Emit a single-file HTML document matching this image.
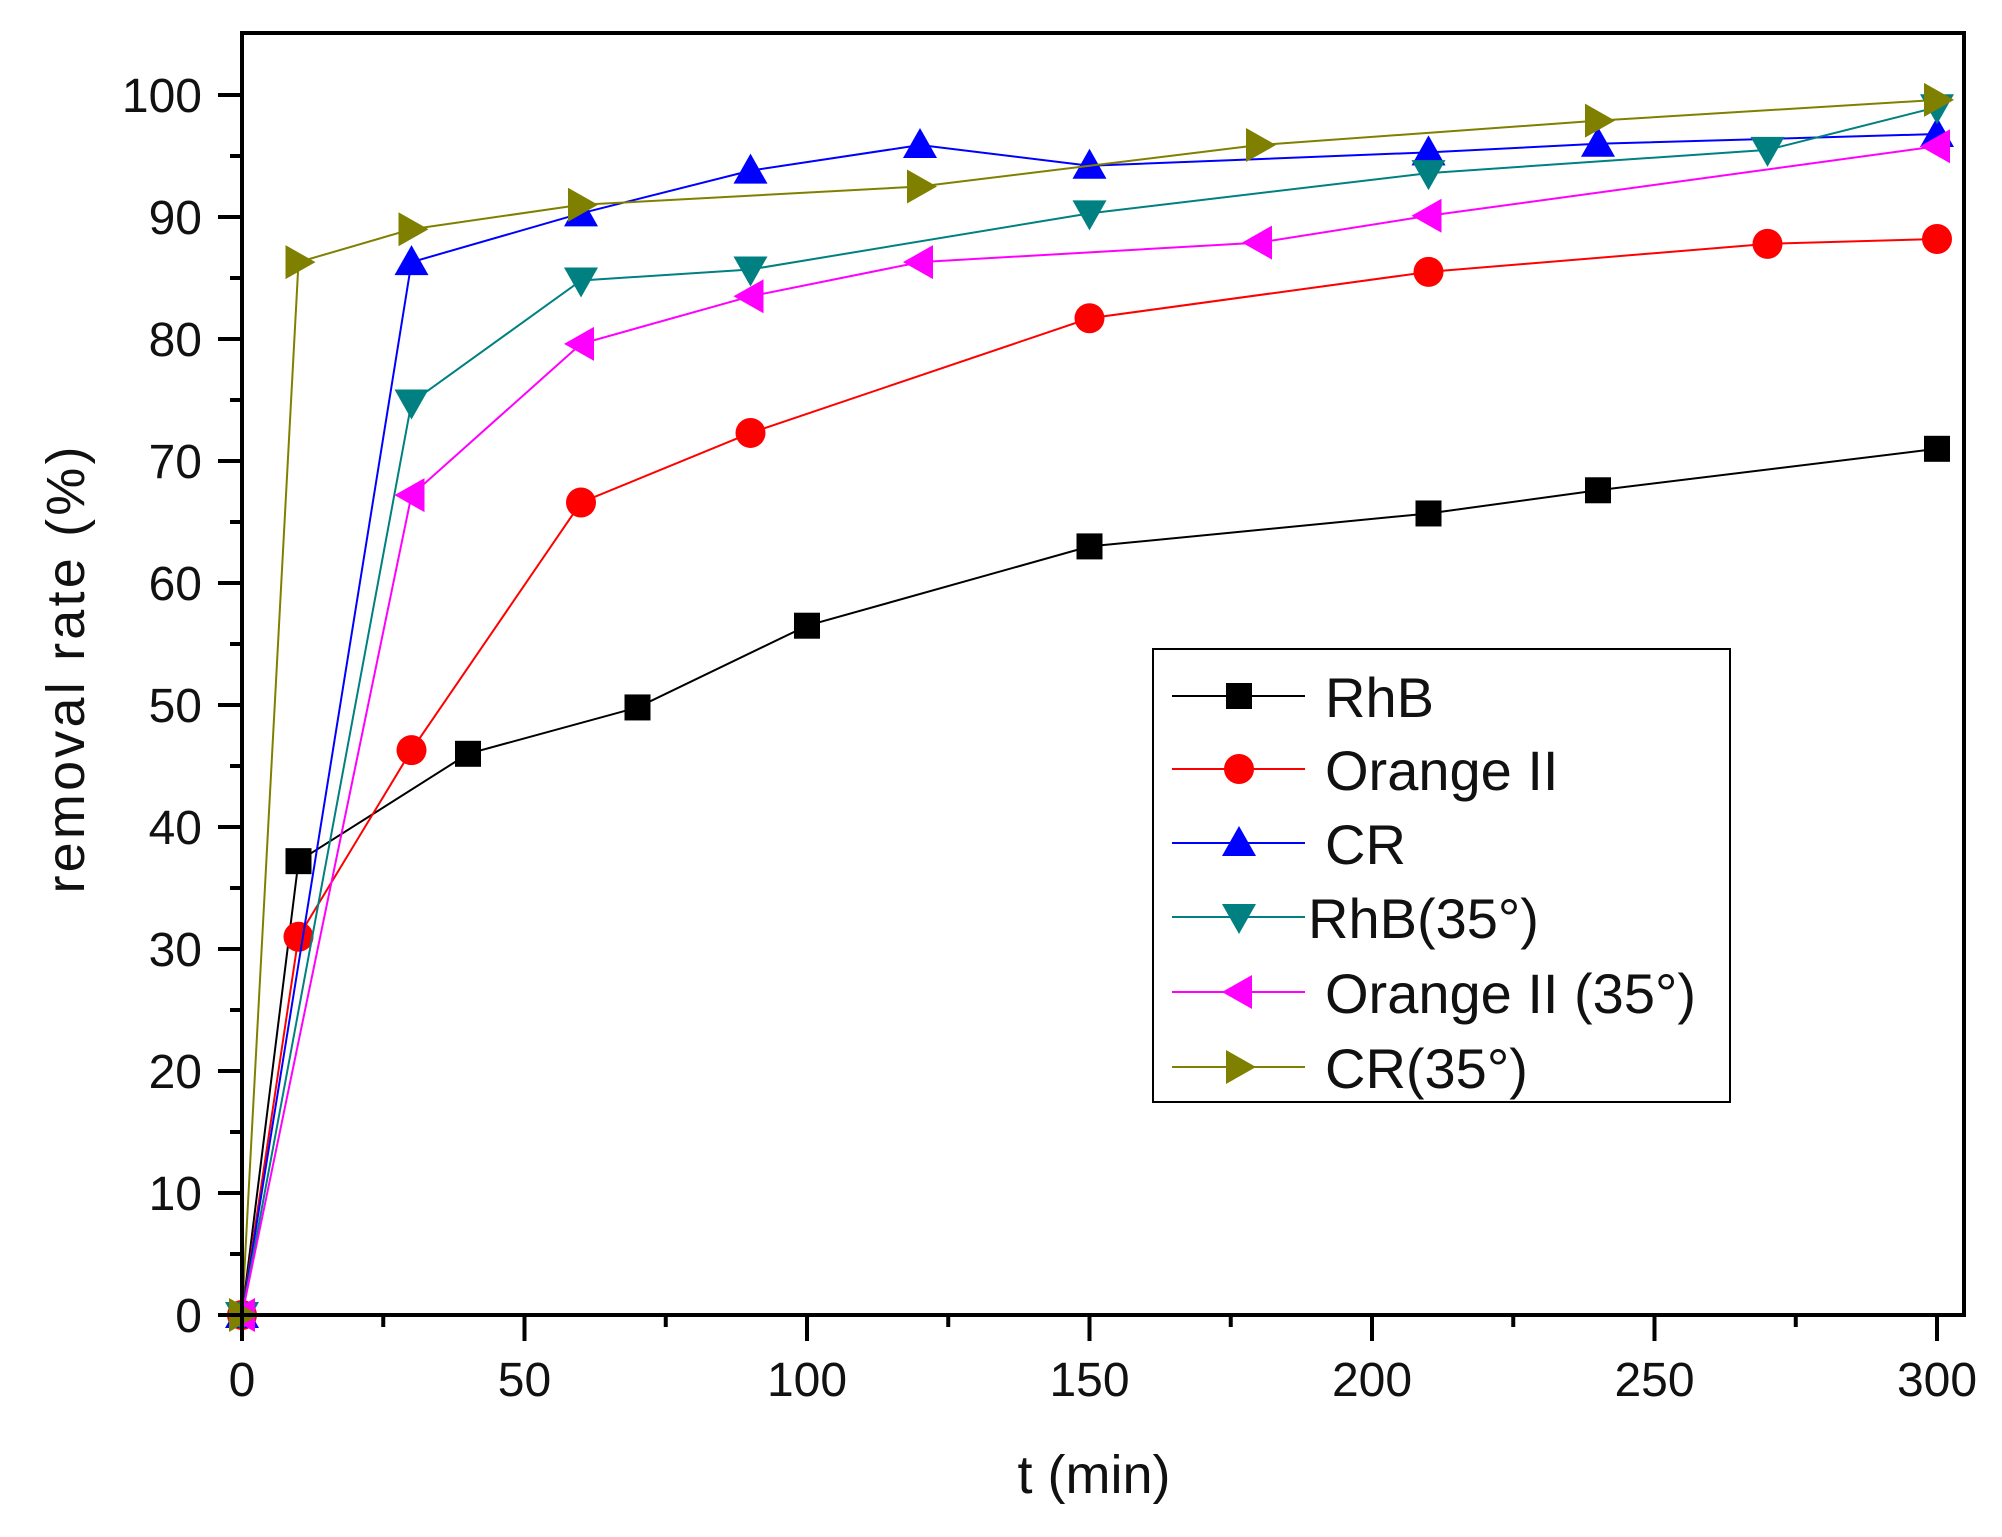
<!DOCTYPE html>
<html><head><meta charset="utf-8"><style>
html,body{margin:0;padding:0;background:#fff;}
svg{display:block;font-family:"Liberation Sans",Arial,sans-serif;}
</style></head><body>
<svg id="s" width="2002" height="1537" viewBox="0 0 2002 1537" xmlns="http://www.w3.org/2000/svg">
<rect width="2002" height="1537" fill="#fff"/>
<g id="plot"></g>
<rect x="242" y="33" width="1722" height="1282" fill="none" stroke="#000" stroke-width="4"/>
<g id="ticks" stroke="#000" stroke-width="4"></g>
<g font-size="48" fill="#111" text-anchor="end">
<text x="202" y="1332">0</text><text x="202" y="1210">10</text><text x="202" y="1088">20</text>
<text x="202" y="966">30</text><text x="202" y="844">40</text><text x="202" y="722">50</text>
<text x="202" y="600">60</text><text x="202" y="478">70</text><text x="202" y="356">80</text>
<text x="202" y="234">90</text><text x="202" y="112">100</text>
</g>
<g font-size="48" fill="#111" text-anchor="middle">
<text x="242" y="1396">0</text><text x="524.5" y="1396">50</text><text x="807" y="1396">100</text>
<text x="1089.5" y="1396">150</text><text x="1372" y="1396">200</text><text x="1654.5" y="1396">250</text>
<text x="1937" y="1396">300</text>
</g>
<text x="1094" y="1493" font-size="54" text-anchor="middle" fill="#111">t (min)</text>
<text transform="translate(84,670) rotate(-90)" font-size="54" text-anchor="middle" fill="#111" textLength="447">removal rate (%)</text>
<rect x="1153" y="649" width="577" height="453" fill="#fff" stroke="#000" stroke-width="2"/>
<g id="leg"></g>
<g font-size="56" fill="#111">
<text x="1325" y="717">RhB</text>
<text x="1325" y="790">Orange II</text>
<text x="1325" y="864">CR</text>
<text x="1308" y="938">RhB(35°)</text>
<text x="1325" y="1013">Orange II (35°)</text>
<text x="1325" y="1088">CR(35°)</text>
</g>
<script>
var X=function(v){return 242+v*5.65},Y=function(v){return 1315-v*12.2};
var ns="http://www.w3.org/2000/svg";
function el(p,t,a){var e=document.createElementNS(ns,t);for(var k in a)e.setAttribute(k,a[k]);p.appendChild(e);return e;}
var tk=document.getElementById('ticks');
for(var v=0;v<=100;v+=5){var y=Y(v),L=v%10?12:24;el(tk,'line',{x1:242-L,y1:y,x2:242,y2:y});}
for(var v=0;v<=300;v+=25){var x=X(v),L=v%50?12:26;el(tk,'line',{x1:x,y1:1315,x2:x,y2:1315+L});}
var S=[
['#000','sq',[[0,0],[10,37.2],[40,46],[70,49.8],[100,56.5],[150,63],[210,65.7],[240,67.6],[300,71]]],
['#f00','ci',[[0,0],[10,31],[30,46.3],[60,66.6],[90,72.3],[150,81.7],[210,85.5],[270,87.8],[300,88.2]]],
['#00f','up',[[0,0],[30,86.3],[60,90.3],[90,93.8],[120,95.9],[150,94.2],[210,95.3],[240,96],[300,96.8]]],
['#008080','dn',[[0,0],[30,74.8],[60,84.8],[90,85.7],[150,90.3],[210,93.6],[270,95.5],[300,99]]],
['#f0f','lt',[[0,0],[30,67.2],[60,79.6],[90,83.5],[120,86.3],[180,87.9],[210,90.1],[300,95.8]]],
['#808000','rt',[[0,0],[10,86.3],[30,89],[60,91],[120,92.5],[180,95.9],[240,97.9],[300,99.6]]]];
function mk(g,t,x,y,c){var r=15;
 if(t=='sq')el(g,'rect',{x:x-r+2,y:y-r+2,width:2*r-4,height:2*r-4,fill:c});
 else if(t=='ci')el(g,'circle',{cx:x,cy:y,r:r,fill:c});
 else{var p;if(t=='up')p=[[x,y-r-2],[x-r-2,y+r-2],[x+r+2,y+r-2]];
 if(t=='dn')p=[[x,y+r+2],[x-r-2,y-r+2],[x+r+2,y-r+2]];
 if(t=='lt')p=[[x-r-2,y],[x+r-2,y-r-2],[x+r-2,y+r+2]];
 if(t=='rt')p=[[x+r+2,y],[x-r+2,y-r-2],[x-r+2,y+r+2]];
 el(g,'polygon',{points:p.map(function(q){return q.join(',')}).join(' '),fill:c});}}
var pl=document.getElementById('plot'),lg=document.getElementById('leg');
var ly=[696,769,843,917,992,1067];
S.forEach(function(s,i){
 el(pl,'polyline',{points:s[2].map(function(d){return X(d[0])+','+Y(d[1])}).join(' '),fill:'none',stroke:s[0],'stroke-width':2});
 s[2].forEach(function(d){mk(pl,s[1],X(d[0]),Y(d[1]),s[0]);});
 el(lg,'line',{x1:1172,y1:ly[i],x2:1305,y2:ly[i],stroke:s[0],'stroke-width':2});
 mk(lg,s[1],1239,ly[i],s[0]);
});
</script>
</svg>
</body></html>
